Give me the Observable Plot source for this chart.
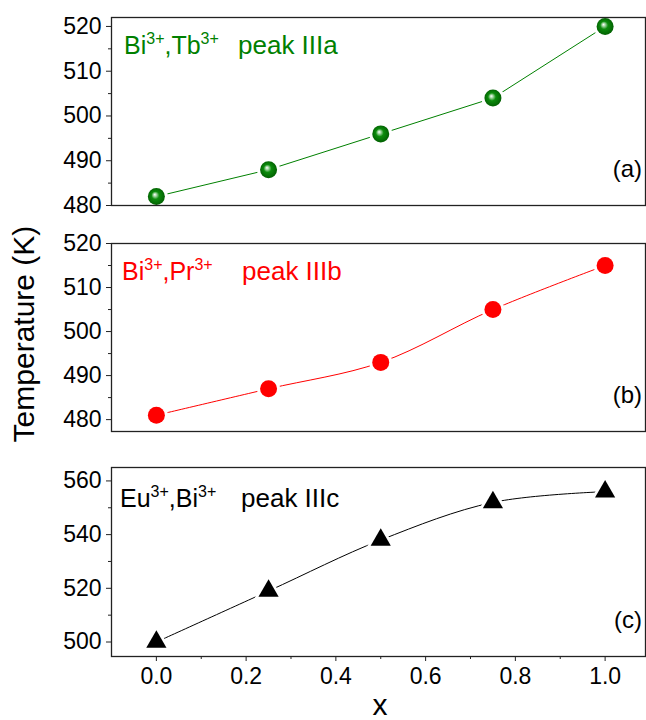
<!DOCTYPE html>
<html><head><meta charset="utf-8">
<script src="https://cdn.jsdelivr.net/npm/d3@7"></script>
<script src="https://cdn.jsdelivr.net/npm/@observablehq/plot@0.6"></script>
<style>
body{margin:0;background:#fff;}
#chart{position:relative;width:646px;height:720px;font-family:Arial,"Liberation Sans",sans-serif;}
#chart svg{position:absolute;left:0;overflow:visible;}
</style></head><body><div id="chart"></div>
<script>
// ---- data ----
const xValues = [0, 0.25, 0.5, 0.75, 1.0];
const tempA = [482, 488, 496, 504, 520];
const tempB = [481, 487, 493, 505, 515];
const tempC = [500, 519, 538, 552, 556];
const xMajorTicks = [0, 0.2, 0.4, 0.6, 0.8, 1.0];
const xMinorTicks = [0.1, 0.3, 0.5, 0.7, 0.9];
const yMajorA = [480, 490, 500, 510, 520];
const yMinorA = [485, 495, 505, 515];
const yMajorB = [480, 490, 500, 510, 520];
const yMinorB = [485, 495, 505, 515];
const yMajorC = [500, 520, 540, 560];
const yMinorC = [510, 530, 550];
const ionsA = ["Bi", "3+", ",Tb", "3+"];
const ionsB = ["Bi", "3+", ",Pr", "3+"];
const ionsC = ["Eu", "3+", ",Bi", "3+"];
const peakNames = ["peak IIIa", "peak IIIb", "peak IIIc"];
const panelTags = ["(a)", "(b)", "(c)"];
const yTitle = "Temperature (K)";
const xTitle = "x";

const W = 646, ML = 111, MR = 1;
const FONT = 'Arial, "Liberation Sans", sans-serif';
const TICK_FONT = 23;
const chart = document.getElementById("chart");

function sphereDefs() {
  const defs = d3.create("svg:defs");
  const g = defs.append("radialGradient").attr("id", "sphereGreen")
    .attr("cx", "50%").attr("cy", "50%").attr("r", "55%").attr("fx", "40%").attr("fy", "38%");
  g.append("stop").attr("offset", "0%").attr("stop-color", "#ffffff");
  g.append("stop").attr("offset", "15%").attr("stop-color", "#b0dcb0");
  g.append("stop").attr("offset", "42%").attr("stop-color", "#0c8c0c");
  g.append("stop").attr("offset", "100%").attr("stop-color", "#005a00");
  return defs.node();
}

function panel(o) {
  const data = xValues.map((x, i) => ({x, y: o.values[i]}));
  const marks = [
    sphereDefs,
    Plot.line(data, {x: "x", y: "y", stroke: o.color, strokeWidth: 1, curve: o.curve}),
    Plot.dot(data, {x: "x", y: "y", r: o.gapR, symbol: o.symbol, fill: "white"}),
    Plot.dot(data, {x: "x", y: "y", r: o.r, symbol: o.symbol, fill: o.fill}),
    Plot.axisY(o.yMajor, {anchor: "left", tickSize: 5, tickFormat: () => "", label: null, stroke: "#222"}),
    Plot.axisY(o.yMinor, {anchor: "left", tickSize: 3, tickFormat: () => "", label: null, stroke: "#222"}),
    Plot.text(o.yMajor, {y: d => d, text: d => String(d), frameAnchor: "left", textAnchor: "end",
      dx: -10, fontSize: TICK_FONT, fontFamily: FONT, fill: "#000"}),
    Plot.frame({stroke: "#222", strokeWidth: 1.3})
  ];
  if (o.xAxis) {
    marks.push(
      Plot.axisX(xMajorTicks, {anchor: "bottom", tickSize: 5, tickFormat: () => "", label: null, stroke: "#222"}),
      Plot.axisX(xMinorTicks, {anchor: "bottom", tickSize: 3, tickFormat: () => "", label: null, stroke: "#222"}),
      Plot.text(xMajorTicks, {x: d => d, text: d => d3.format(".1f")(d), frameAnchor: "bottom", lineAnchor: "top",
        dy: 11, fontSize: TICK_FONT, fontFamily: FONT, fill: "#000"})
    );
  }
  const svg = Plot.plot({
    width: W, height: o.height,
    marginLeft: ML, marginRight: MR, marginTop: o.mt, marginBottom: o.mb,
    style: {fontFamily: FONT, color: "#000", background: "transparent", overflow: "visible"},
    x: {domain: [-0.1, 1.09], axis: null},
    y: {domain: o.domain, axis: null},
    marks
  });
  svg.style.top = o.top + "px";
  const s = d3.select(svg);
  // ion label with superscripts
  const t = s.append("text").attr("x", ML + o.lx).attr("y", o.mt + o.ly).attr("text-anchor", "start")
    .attr("fill", o.color).attr("font-size", 25).attr("font-family", FONT);
  o.ions.forEach((str, i) => {
    const sup = i % 2 === 1;
    t.append("tspan").text(str)
      .attr("font-size", sup ? 16 : 25)
      .attr("dy", sup ? -10 : (i > 0 ? 10 : 0));
  });
  s.append("text").attr("x", ML + o.px).attr("y", o.mt + o.ly).attr("text-anchor", "start")
    .attr("fill", o.color).attr("font-size", 26).attr("font-family", FONT).text(o.peak);
  s.append("text").attr("x", W - 4).attr("y", o.height - o.mb - 28)
    .attr("text-anchor", "end").attr("fill", "#000").attr("font-size", 24).attr("font-family", FONT).text(o.tag);
  chart.appendChild(svg);
}

panel({values: tempA, color: "#008000", fill: "url(#sphereGreen)", symbol: "circle", r: 8.5, gapR: 11.5,
  curve: "linear", domain: [480, 522], top: 0, height: 215, mt: 17, mb: 10,
  yMajor: yMajorA, yMinor: yMinorA, ions: ionsA, peak: peakNames[0], tag: panelTags[0], lx: 13, ly: 37, px: 127});
panel({values: tempB, color: "#ff0000", fill: "#ff0000", symbol: "circle", r: 8.5, gapR: 11.5,
  curve: "catmull-rom", domain: [477.3, 520], top: 220, height: 221, mt: 23, mb: 10,
  yMajor: yMajorB, yMinor: yMinorB, ions: ionsB, peak: peakNames[1], tag: panelTags[1], lx: 11, ly: 37, px: 131});
panel({values: tempC, color: "#000000", fill: "#000000", symbol: "triangle", r: 7.5, gapR: 11,
  curve: "catmull-rom", domain: [494.6, 565], top: 440, height: 280, mt: 27, mb: 64, xAxis: true,
  yMajor: yMajorC, yMinor: yMinorC, ions: ionsC, peak: peakNames[2], tag: panelTags[2], lx: 9, ly: 40, px: 130});

// axis titles overlay
const ov = d3.select(chart).append("svg").attr("width", W).attr("height", 720)
  .style("top", "0px").style("pointer-events", "none");
ov.append("text").attr("transform", "translate(34,334) rotate(-90)").attr("text-anchor", "middle")
  .attr("font-size", 30).attr("font-family", FONT).attr("fill", "#000").text(yTitle);
ov.append("text").attr("x", 380).attr("y", 715).attr("text-anchor", "middle")
  .attr("font-size", 30).attr("font-family", FONT).attr("fill", "#000").text(xTitle);
</script></body></html>
